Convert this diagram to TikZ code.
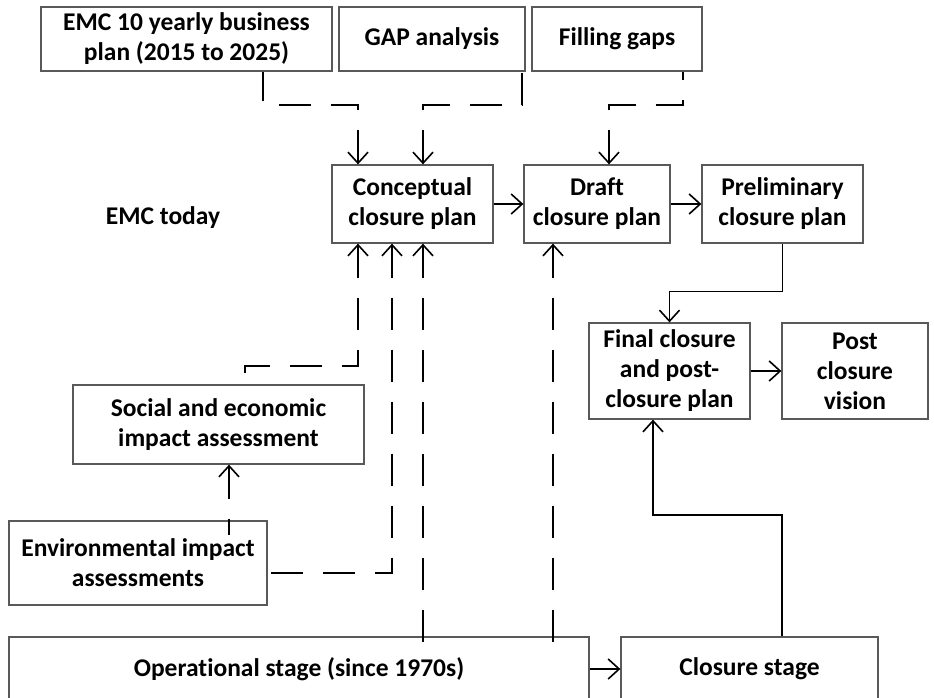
\documentclass[tikz,border=0pt]{standalone}
\usepackage{fontspec}
\setmainfont{Carlito}[Ligatures=NoCommon]
\usepackage{tikz}
\usetikzlibrary{positioning,arrows.meta,calc}

\begin{document}
\begin{tikzpicture}[
    x=1pt, y=-1pt,
    font=\fontsize{25.5}{30}\selectfont\bfseries,
    planbox/.style={draw=black!65, line width=1.3pt, align=center, inner sep=0pt},
    flow/.style={line width=1.6pt, -{Straight Barb[length=11pt,width=20pt]}},
    dashback/.style={line width=1.6pt, dash pattern=on 32pt off 20pt, {Straight Barb[length=11pt,width=20pt]}-}
]
    \useasboundingbox (0,0) rectangle (934,697);

    % --- top row: inputs ---
    \node[planbox, minimum width=291pt, minimum height=64pt] (bizplan) at (186.5,39) {EMC 10 yearly business\\plan (2015 to 2025)};
    \node[planbox, minimum width=186pt, minimum height=64pt] (gapbox) at (432,39) {GAP analysis};
    \node[planbox, minimum width=170pt, minimum height=64pt] (fillgaps) at (617,39) {Filling gaps};

    % --- plan sequence ---
    \node (today) at (163,218) {EMC today};
    \node[planbox, minimum width=161pt, minimum height=78pt] (concept) at (412.5,204) {Conceptual\\closure plan};
    \node[planbox, minimum width=146pt, minimum height=78pt] (draft) at (597,204) {Draft\\closure plan};
    \node[planbox, minimum width=161pt, minimum height=78pt] (prelim) at (782.5,204) {Preliminary\\closure plan};
    \node[planbox, minimum width=161pt, minimum height=96pt] (final) at (669.5,371) {Final closure\\and post-\\closure plan};
    \node[planbox, minimum width=146pt, minimum height=96pt] (post) at (855,371) {Post\\closure\\vision};

    % --- assessments ---
    \node[planbox, minimum width=291pt, minimum height=79pt] (social) at (218.5,424.5) {Social and economic\\impact assessment};
    \node[planbox, minimum width=258pt, minimum height=84pt] (env) at (138,563) {Environmental impact\\assessments};

    % --- stages ---
    \node[planbox, minimum width=580pt, minimum height=64pt] (oper) at (299,669) {Operational stage (since 1970s)};
    \node[planbox, minimum width=257pt, minimum height=64pt] (closure) at (749.5,669) {Closure stage};

    % --- dashed inputs ---
    \draw[dashback] (358,0 |- concept.north) |- (263,105) -- (263,0 |- bizplan.south);
    \draw[dashback] (423,0 |- concept.north) |- (522,105) -- (522,0 |- gapbox.south);
    \draw[dashback] (609,0 |- draft.north) |- (683,105) -- (683,0 |- fillgaps.south);
    \draw[dashback] (358,0 |- concept.south) |- (245,366) -- (245,0 |- social.north);
    \draw[dashback] (392,0 |- concept.south) |- (env.east |- 0,573);
    \draw[dashback] (423,0 |- concept.south) -- (423,643);
    \draw[dashback] (553,0 |- draft.south) -- (553,643);
    \draw[dashback] (229,0 |- social.south) -- (229,535);

    % --- solid flow ---
    \draw[flow] (concept.east) -- (draft.west);
    \draw[flow] (draft.east) -- (prelim.west);
    \draw[flow] (prelim.south) -- ++(0,48) -| (final.north);
    \draw[flow] (final.east) -- (post.west);
    \draw[flow] (782,0 |- closure.north) -- (782,515) -| (653,0 |- final.south);
    \draw[flow] (oper.east) -- (closure.west);

\end{tikzpicture}
\end{document}
